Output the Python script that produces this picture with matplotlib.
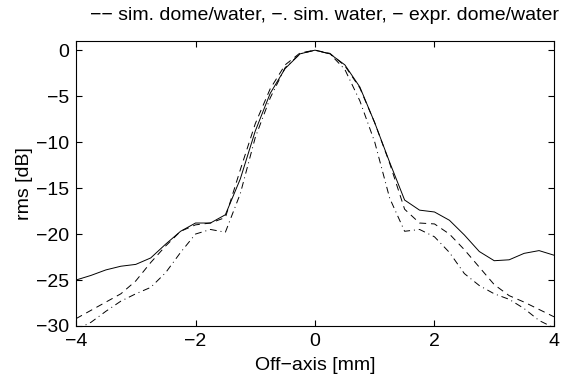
import numpy as np
import matplotlib
matplotlib.use('Agg')
import matplotlib.pyplot as plt

# off-axis positions [mm]
x = np.arange(-4, 4.01, 0.25)

# sim. dome/water (dashed)
sim_dome = [-29.2, -28.3, -27.4, -26.5, -25.1, -23.1, -21.3, -19.7, -19.0,
            -18.8, -18.2, -13.0, -8.0, -4.2, -1.6, -0.3, 0.0,
            -0.35, -1.7, -4.1, -7.9, -12.3, -17.3, -18.8, -18.9,
            -20.0, -21.7, -23.6, -25.5, -26.7, -27.4, -28.2, -29.0]

# sim. water (dash-dot)
sim_water = [-30.4, -29.6, -28.4, -27.3, -26.5, -25.8, -24.2, -22.0, -20.0,
             -19.5, -19.8, -15.6, -9.5, -5.2, -1.9, -0.4, 0.0,
             -0.4, -2.1, -5.5, -10.0, -16.1, -19.7, -19.5, -20.3,
             -22.0, -24.3, -25.6, -26.5, -27.1, -28.1, -29.4, -30.2]

# expr. dome/water (solid)
expr_dome = [-25.0, -24.5, -23.9, -23.5, -23.3, -22.6, -21.1, -19.7, -18.8,
             -18.8, -17.9, -14.0, -8.8, -4.7, -2.0, -0.4, 0.0,
             -0.4, -1.6, -4.0, -7.9, -12.2, -16.3, -17.4, -17.6,
             -18.5, -20.1, -21.9, -22.9, -22.8, -22.1, -21.8, -22.3]

plt.rcParams['font.family'] = ['Liberation Sans', 'DejaVu Sans']
plt.rcParams['font.size'] = 14

fig = plt.figure(figsize=(5.69, 3.77), dpi=100)
ax = fig.add_axes([0.1336, 0.1353, 0.84, 0.756])

ax.plot(x, sim_dome, color='k', lw=0.7, linestyle=(0, (7, 5)))
ax.plot(x, sim_water, color='k', lw=0.7, linestyle=(0, (7, 4, 1, 4)))
ax.plot(x, expr_dome, color='k', lw=0.7, linestyle='-')

ax.set_xlim(-4, 4)
ax.set_ylim(-30, 1)
ax.set_xticks([-4, -2, 0, 2, 4])
ax.set_yticks([-30, -25, -20, -15, -10, -5, 0])
ax.tick_params(direction='in', top=True, right=True, length=4,
               labelsize=14, pad=5)
for s in ax.spines.values():
    s.set_linewidth(0.8)

ax.set_xlabel('Off\u2212axis [mm]', fontsize=14, labelpad=5)
ax.set_ylabel('rms [dB]', fontsize=14, labelpad=2)
ax.set_title('\u2212\u2212 sim. dome/water, \u2212. sim. water, \u2212 expr. dome/water',
             fontsize=14, pad=15, x=0.52)

fig.savefig('out.png', dpi=100)
